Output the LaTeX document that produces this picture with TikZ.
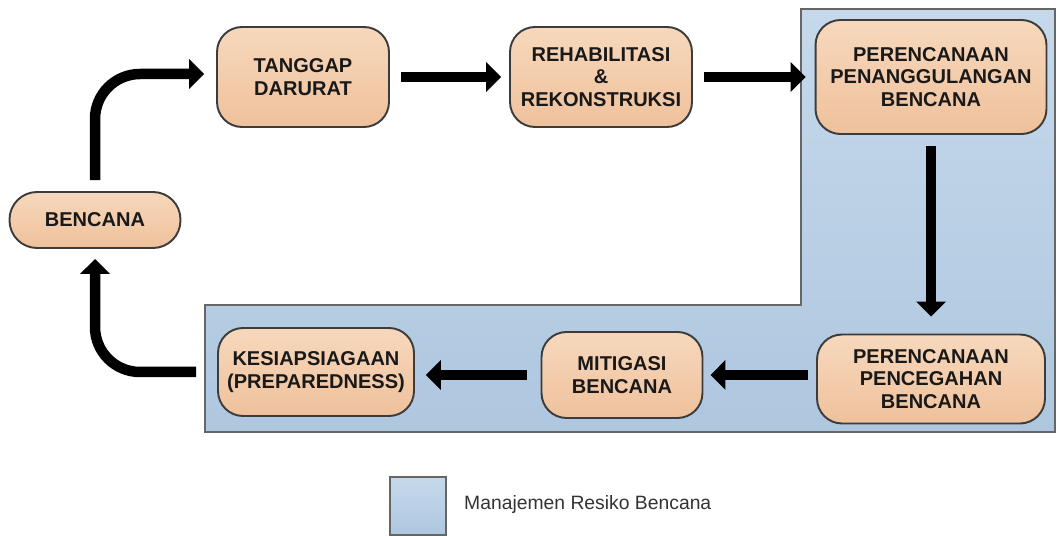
\documentclass[tikz,border=0pt]{standalone}
\usepackage{fontspec}
\setmainfont{Liberation Sans}
\usetikzlibrary{arrows.meta}
\definecolor{peachtop}{HTML}{F7D8BC}
\definecolor{peachbot}{HTML}{EFC19C}
\definecolor{bluetop}{HTML}{C6D9EB}
\definecolor{bluebot}{HTML}{AEC7DF}
\definecolor{edgegray}{HTML}{3C3C3C}
\tikzset{
  stage/.style={draw=edgegray, line width=1.1pt, rounded corners=0.5cm,
    top color=peachtop, bottom color=peachbot, align=center,
    font=\bfseries\fontsize{11.4}{13}\selectfont, text=black!90},
  arr/.style={line width=0.21cm, -{Triangle[length=0.3cm,width=0.58cm]}},
  zone/.style={draw=black!60, line width=0.8pt, top color=bluetop, bottom color=bluebot}
}
\begin{document}
\begin{tikzpicture}[x=0.02cm,y=-0.02cm]
\useasboundingbox (0,0) rectangle (1058,536);
% daerah manajemen resiko
\path [zone] (801,9) -- (1055,9) -- (1055,432) -- (205,432) -- (205,305) -- (801,305) -- cycle;
\node [stage, minimum width=3.42cm, minimum height=1.12cm, rounded corners=0.55cm] (ben) at (95,220) {BENCANA};
\node [stage, minimum width=3.44cm, minimum height=2cm] (tang) at (303,77) {TANGGAP\\DARURAT};
\node [stage, minimum width=3.64cm, minimum height=2cm] (rehab) at (601,77) {REHABILITASI\\\&\\REKONSTRUKSI};
\node [stage, minimum width=4.62cm, minimum height=2.28cm] (renc) at (931,77) {PERENCANAAN\\PENANGGULANGAN\\BENCANA};
\node [stage, minimum width=4.56cm, minimum height=1.78cm] (cegah) at (931,379) {PERENCANAAN\\PENCEGAHAN\\BENCANA};
\node [stage, minimum width=3.22cm, minimum height=1.72cm] (mit) at (622,375) {MITIGASI\\BENCANA};
\node [stage, minimum width=3.92cm, minimum height=1.76cm] (siap) at (316,372) {KESIAPSIAGAAN\\(PREPAREDNESS)};
% panah
\draw [arr, rounded corners=0.9cm] ([yshift=0.22cm]ben.north) |- ([xshift=-0.24cm,yshift=0.06cm]tang.west);
\draw [arr, shorten <=0.22cm, shorten >=0.16cm] (tang) -- (rehab);
\draw [arr, shorten <=0.22cm, shorten >=0.18cm] (rehab) -- (renc);
\draw [arr, shorten <=0.22cm, shorten >=0.34cm] (renc) -- (cegah);
\draw [arr, shorten <=0.16cm, shorten >=0.14cm] (cegah.west |- mit.center) -- (mit.east);
\draw [arr, shorten <=0.28cm, shorten >=0.22cm] (mit.west) -- (siap.east |- mit.west);
\draw [arr, rounded corners=0.9cm] ([xshift=-0.42cm]siap.west) -| ([yshift=-0.2cm]ben.south);
% keterangan
\path [zone] (390,477) rectangle (446,535);
\node [anchor=west, font=\fontsize{11}{13}\selectfont, text=black!80] (ket) at (458,505) {Manajemen Resiko Bencana};
\end{tikzpicture}
\end{document}
